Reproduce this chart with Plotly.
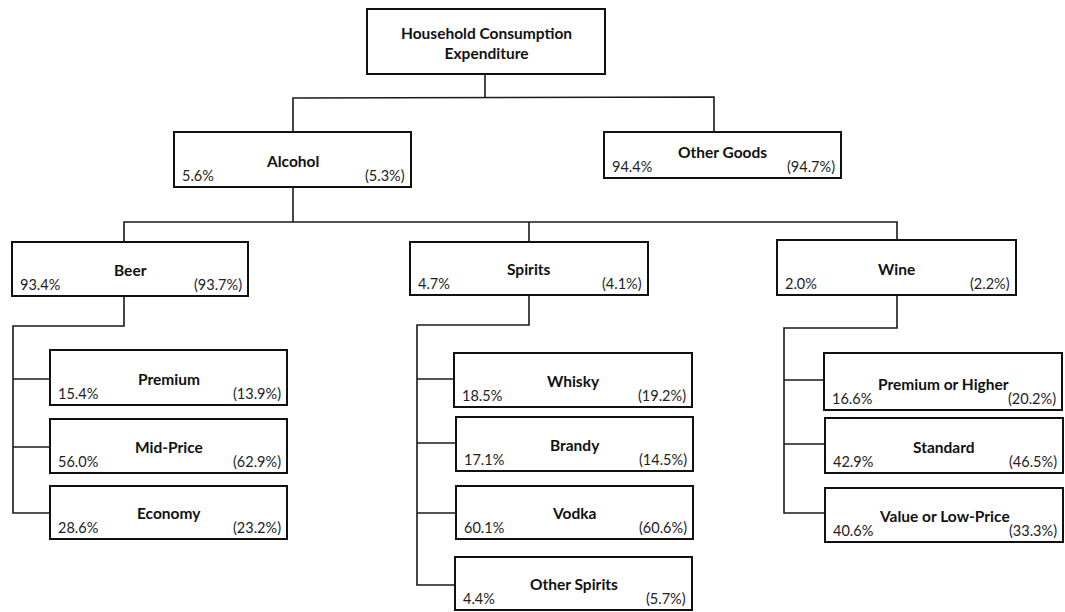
import plotly.graph_objects as go

# ---------------- data ----------------
node_names = ["Household Consumption<br>Expenditure", "Alcohol", "Other Goods",
              "Beer", "Spirits", "Wine",
              "Premium", "Mid-Price", "Economy",
              "Whisky", "Brandy", "Vodka", "Other Spirits",
              "Premium or Higher", "Standard", "Value or Low-Price"]
share_left = [None, 5.6, 94.4, 93.4, 4.7, 2.0, 15.4, 56.0, 28.6,
              18.5, 17.1, 60.1, 4.4, 16.6, 42.9, 40.6]
share_right = [None, 5.3, 94.7, 93.7, 4.1, 2.2, 13.9, 62.9, 23.2,
               19.2, 14.5, 60.6, 5.7, 20.2, 46.5, 33.3]
parent = [None, 0, 0, 1, 1, 1, 3, 3, 3, 4, 4, 4, 4, 5, 5, 5]

# ---------------- layout geometry (pixels in a 1065x612 canvas) ----------------
boxes = [
    (367, 9, 605, 74),
    (174, 132, 411, 187), (604, 132, 841, 178),
    (12, 242, 248, 296), (410, 242, 648, 295), (777, 240, 1016, 295),
    (50, 350, 287, 405), (50, 419, 287, 473), (50, 486, 287, 539),
    (454, 353, 692, 407), (456, 417, 693, 471), (456, 486, 693, 539), (455, 557, 692, 610),
    (824, 353, 1062, 410), (825, 418, 1063, 473), (825, 488, 1063, 542),
]
connectors = [
    # top -> level 1
    [(485, 74), (485, 97)],
    [(293, 132), (293, 98), (714, 97), (714, 132)],
    # alcohol -> level 2
    [(293, 187), (293, 222)],
    [(124, 242), (124, 222), (897, 222), (897, 240)],
    [(529, 222), (529, 242)],
    # beer comb
    [(124, 296), (124, 326), (13, 326), (13, 513), (50, 513)],
    [(13, 379), (50, 379)], [(13, 447), (50, 447)],
    # spirits comb
    [(529, 295), (529, 325), (417, 325), (417, 585), (455, 585)],
    [(417, 379), (454, 379)], [(417, 443), (456, 443)], [(417, 513), (456, 513)],
    # wine comb
    [(897, 295), (897, 328), (784, 328), (784, 513), (825, 513)],
    [(784, 380), (824, 380)], [(784, 444), (825, 444)],
]

W, H = 1065, 612
FONT = "Lato"
TITLE_SIZE = 15.5
PCT_SIZE = 14.5

fig = go.Figure()
# invisible trace to establish axes
fig.add_trace(go.Scatter(x=[0, W], y=[0, H], mode="markers",
                         marker=dict(opacity=0), hoverinfo="skip", showlegend=False))

shapes = []
for pts in connectors:
    path = "M " + " L ".join(f"{x},{y}" for x, y in pts)
    shapes.append(dict(type="path", path=path, xref="x", yref="y",
                       line=dict(color="#1a1a1a", width=1.6)))
for (x0, y0, x1, y1) in boxes:
    shapes.append(dict(type="rect", x0=x0, y0=y0, x1=x1, y1=y1, xref="x", yref="y",
                       line=dict(color="#111111", width=2), fillcolor="white"))

annotations = []
for i, name in enumerate(node_names):
    x0, y0, x1, y1 = boxes[i]
    cx = (x0 + x1) / 2
    if share_left[i] is None:
        annotations.append(dict(x=cx, y=(y0 + y1) / 2 + 1, text=f"<b>{name}</b>",
                                showarrow=False, xref="x", yref="y",
                                font=dict(family=FONT, size=TITLE_SIZE, color="#111"),
                                align="center"))
        continue
    annotations.append(dict(x=cx, y=y1 - 26, text=f"<b>{name}</b>", showarrow=False,
                            xref="x", yref="y", xanchor="center", yanchor="middle",
                            font=dict(family=FONT, size=TITLE_SIZE, color="#111")))
    annotations.append(dict(x=x0 + 6, y=y1 - 12, text=f"{share_left[i]:.1f}%",
                            showarrow=False, xref="x", yref="y", xanchor="left",
                            yanchor="middle",
                            font=dict(family=FONT, size=PCT_SIZE, color="#222")))
    annotations.append(dict(x=x1 - 4, y=y1 - 12, text=f"({share_right[i]:.1f}%)",
                            showarrow=False, xref="x", yref="y", xanchor="right",
                            yanchor="middle",
                            font=dict(family=FONT, size=PCT_SIZE, color="#222")))

fig.update_layout(
    width=W, height=H,
    margin=dict(l=0, r=0, t=0, b=0),
    paper_bgcolor="white", plot_bgcolor="white",
    xaxis=dict(range=[0, W], visible=False, fixedrange=True),
    yaxis=dict(range=[H, 0], visible=False, fixedrange=True),
    shapes=shapes, annotations=annotations, showlegend=False,
)

fig.write_html("out.html", config={"displayModeBar": False},
               post_script="document.body.style.margin='0';document.body.style.overflow='hidden';")
